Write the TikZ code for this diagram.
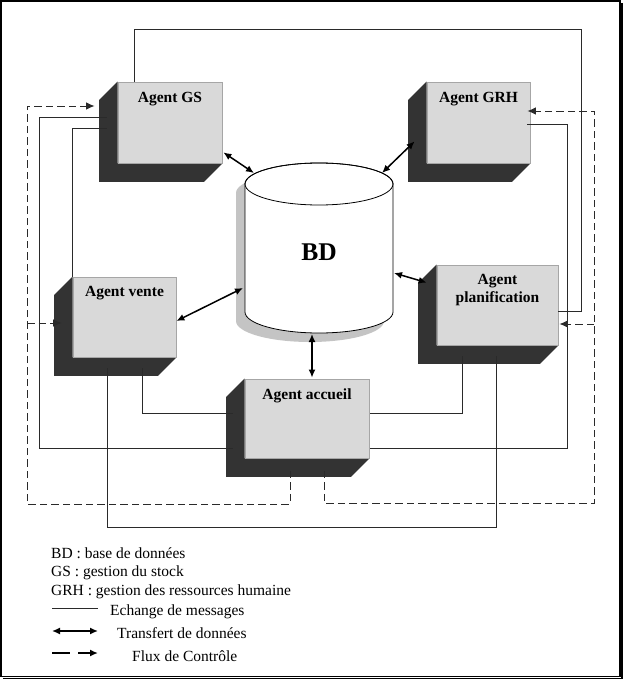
\documentclass[tikz,border=0pt]{standalone}
\usepackage{fontspec}
\setmainfont{Liberation Serif}
\usetikzlibrary{arrows.meta,calc,backgrounds}
\definecolor{boxface}{HTML}{D9D9D9}
\definecolor{boxedge}{HTML}{A6A6A6}
\definecolor{boxdark}{HTML}{333333}
\definecolor{cylshadow}{HTML}{C4C4C4}
\definecolor{linec}{HTML}{2A2A2A}
\begin{document}
\begin{tikzpicture}[x=1pt,y=-1pt,
  front/.style={draw=boxedge, fill=boxface, line width=0.8pt, inner sep=0pt},
  lbl/.style={font=\bfseries\fontsize{15.5}{18}\selectfont, anchor=base, inner sep=0pt},
  msg/.style={draw=linec, line width=0.85pt},
  data/.style={line width=1.5pt, {Latex[length=8pt,width=7pt]}-{Latex[length=8pt,width=7pt]}},
  ctrl/.style={draw=linec, line width=0.95pt, dash pattern=on 7.5pt off 4pt, -{Latex[length=8.5pt,width=7.5pt]}},
  legtext/.style={font=\fontsize{15.5}{18}\selectfont, anchor=base west, inner sep=0pt},
]
\useasboundingbox (0,0) rectangle (624,690);
% outer frame
\draw[line width=1.2pt] (1,1) rectangle (620,676.5);
\draw[line width=1.4pt] (3,678.2) -- (621.8,678.2) -- (621.8,3);

% agent front faces
\node[front, minimum width=104pt, minimum height=81pt] (gs)  at (170,122.5) {};
\node[front, minimum width=103pt, minimum height=81pt] (grh) at (478.5,122.5) {};
\node[front, minimum width=103pt, minimum height=80pt] (ve)  at (124.5,317) {};
\node[front, minimum width=124pt, minimum height=79pt] (ac)  at (307,418.5) {};
\node[front, minimum width=121pt, minimum height=80pt] (pl)  at (497.5,305) {};

% dark extruded sides
\begin{scope}[on background layer]
\foreach \n in {gs,grh,ve,ac,pl}{
  \fill[boxdark] (\n.north west) -- ++(-18.5,18.5) -- ($(\n.south west)+(-18.5,18.5)$)
    -- ($(\n.south east)+(-18.5,18.5)$) -- (\n.south east) -- (\n.south west) -- cycle;
}
\end{scope}

% labels
\node[lbl] (tgs)  at ($(gs.north)+(0,21)$) {Agent GS};
\node[lbl] (tgrh) at ($(grh.north)+(0,21)$) {Agent GRH};
\node[lbl] (tve)  at ($(ve.north)+(0,20)$) {Agent vente};
\node[lbl] (tac)  at ($(ac.north)+(0,21)$) {Agent accueil};
\node[lbl] (tpl)  at ($(pl.north)+(0,20)$) {Agent};
\node[lbl] (tpl2) at ($(pl.north)+(0,38)$) {planification};

% database cylinder
\fill[cylshadow] (236,193) -- (236,321) arc[start angle=180,end angle=0,x radius=74,y radius=21]
  -- (384,193) arc[start angle=0,end angle=-180,x radius=74,y radius=21] -- cycle;
\filldraw[fill=white, draw=black, line width=0.8pt] (245,184) -- (245,312)
  arc[start angle=180,end angle=0,x radius=74,y radius=21]
  -- (393,184) arc[start angle=0,end angle=-180,x radius=74,y radius=21] -- cycle;
\draw[line width=0.8pt] (319,184) ellipse[x radius=74, y radius=21];
\node[font=\bfseries\fontsize{25.5}{30}\selectfont, inner sep=0pt] (bd) at (319,252.5) {BD};
\coordinate (bdgs)  at (254,173);
\coordinate (bdgrh) at (382,173);
\coordinate (bdve)  at (243,288);
\coordinate (bdpl)  at (394,273);
\coordinate (bdac)  at (312,334);

% data transfer
\draw[data] ($(gs.south east)+(1,-11)$) -- (bdgs);
\draw[data] ($(grh.south west)+(-12,-22)$) -- (bdgrh);
\draw[data] ($(ve.east)+(0,4)$) -- (bdve);
\draw[data] (bdpl) -- ($(pl.north west)+(-10,18)$);
\draw[data] (bdac) -- ($(ac.north)+(5,-1)$);

% message exchange
\draw[msg] ($(gs.north west)+(17,0)$) |- (581,29) |- ($(pl.east)+(0,6)$);
\draw[msg] ($(gs.west)+(-11,-5.5)$) -- (39,117) |- ($(ac.west)+(-12,29.5)$);
\draw[msg] ($(gs.west)+(-11,5.5)$) -| (ve.north west);
\draw[msg] ($(ve.south)+(17.5,11)$) |- ($(ac.west)+(-12,-5.5)$);
\draw[msg] ($(ve.south)+(-17.5,11)$) |- (496,527) -- ($(pl.south)+(-1.5,11)$);
\draw[msg] ($(ac.east)+(1,-5.5)$) -| ($(pl.south)+(-35.5,11)$);
\draw[msg] ($(grh.east)+(-3,1.5)$) -| (567,448) -- ($(ac.east)+(1,29.5)$);

% control flow
\draw[ctrl] ($(ac.south)+(-17,12.5)$) |- (27,504) |- ($(gs.west)+(-23,-16.5)$);
\draw[ctrl] (27,323) -- ($(ve.west)+(-11,6)$);
\draw[ctrl] ($(ac.south)+(17,12.5)$) |- (594,503) |- ($(grh.east)+(-3,-11.5)$);
\draw[ctrl] (594,324) -- ($(pl.east)+(1,19)$);

% legend
\node[legtext] (k1) at (51,558) {BD : base de données};
\node[legtext] (k2) at (51,576.5) {GS : gestion du stock};
\node[legtext] (k3) at (51,595) {GRH : gestion des ressources humaine};
\node[legtext] (k4) at (110,615) {Echange de messages};
\node[legtext] (k5) at (117,638) {Transfert de données};
\node[legtext] (k6) at (132,661) {Flux de Contrôle};
\coordinate (m1a) at (52,608);  \coordinate (m1b) at (98,608);
\coordinate (m2a) at (52,631);  \coordinate (m2b) at (98,631);
\coordinate (m3a) at (52,653);  \coordinate (m3b) at (70,653);
\coordinate (m3c) at (78,653);  \coordinate (m3d) at (98,653);
\draw[msg] (m1a) -- (m1b);
\draw[data] (m2a) -- (m2b);
\draw[line width=1.6pt] (m3a) -- (m3b);
\draw[line width=1.6pt, -{Latex[length=8pt,width=7pt]}] (m3c) -- (m3d);
\end{tikzpicture}
\end{document}
